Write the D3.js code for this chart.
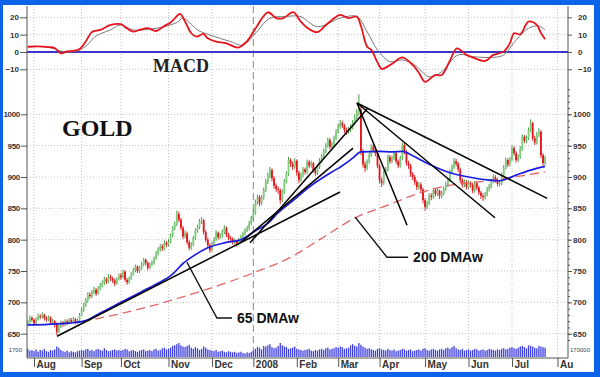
<!DOCTYPE html>
<html>
<head>
<meta charset="utf-8">
<script src="https://cdn.jsdelivr.net/npm/d3@7"></script>
<style>
  body { margin: 0; background: #fff; }
  svg { display: block; }
</style>
</head>
<body>
<div id="chart"></div>
<script>
/* Gold daily candles, moving averages, trendlines, MACD and volume (Jul 2007 - Jul 2008) */

// trading-day index 0 = Jul 27 2007; open of each day = previous close
const firstOpen = 664;

const closes = [
  668,675,672,666,673,678,677,680,675,673, 676,668,670,666,653,662,668,665,670,667,
  672,669,673,668,671,680,688,695,703,712, 710,716,720,714,722,727,731,737,733,741,
  738,735,730,737,743,740,749,736,732,738, 745,751,757,750,754,760,768,763,755,761,
  763,770,778,784,789,786,795,792,796,806, 818,824,841,832,819,805,810,796,787,792,
  803,814,820,829,831,812,800,791,783,794, 800,811,804,806,812,819,808,803,801,796,
  798,793,800,804,810,815,818,826,834,842, 860,868,858,867,879,893,902,911,898,886,
  881,879,863,876,893,905,927,921,916,926, 907,895,903,912,908,924,918,922,911,906,
  916,926,933,941,950,959,948,952,962,972, 980,986,982,975,972,975,979,986,995,1002,
  1008,940,920,914,924,935,948,943,938,918, 895,890,906,912,932,925,930,938,925,918,
  930,951,940,922,918,905,900,892,884,888, 880,863,852,858,870,868,879,873,878,870,
  874,881,888,895,908,916,925,921,912,895, 888,892,884,890,888,878,890,883,875,870,
  868,872,880,885,893,900,895,889,890,903, 915,927,920,928,946,938,927,932,945,964,
  958,962,975,986,962,955,968,972,935,922, 930
];

const highs = [
  672,679,678,674,676,682,681,684,682,678, 679,678,674,672,668,665,671,670,673,673,
  675,675,677,675,674,683,692,699,707,716, 716,720,725,723,726,731,735,741,740,745,
  744,741,738,740,746,747,752,751,739,741, 748,755,760,759,758,764,771,770,765,764,
  767,773,782,788,793,793,799,798,801,810, 822,829,846,845,835,822,815,813,799,796,
  806,818,824,833,836,833,815,803,794,797, 804,815,813,810,816,823,821,811,806,804,
  802,800,803,808,813,818,822,830,838,847, 864,872,871,871,883,897,907,916,914,901,
  890,885,882,880,897,909,932,930,925,930, 928,910,907,916,915,928,927,926,924,914,
  920,930,937,945,954,963,962,956,966,976, 985,991,990,985,979,980,984,991,1000,1008,
  1032,1012,945,925,928,939,952,952,947,941, 921,899,910,916,936,935,934,942,940,928,
  934,955,954,943,926,921,908,903,895,892, 891,883,866,862,874,874,883,882,882,880,
  878,885,892,899,912,920,930,929,924,915, 898,896,895,894,893,891,894,893,886,878,
  874,876,884,889,897,904,903,898,895,907, 919,931,930,932,950,949,941,936,949,968,
  967,966,979,992,988,966,972,978,975,938, 934
];

const lows = [
  661,666,669,663,664,671,673,674,671,669, 670,665,664,660,648,651,659,661,662,664,
  665,666,667,665,666,669,678,685,693,700, 706,707,713,710,712,719,724,728,729,731,
  734,731,726,728,735,736,738,733,728,730, 736,743,748,747,747,752,758,759,751,753,
  758,760,768,775,781,782,783,788,789,794, 804,815,822,828,815,801,802,792,783,784,
  790,800,811,817,825,808,796,787,779,781, 791,798,800,801,803,809,804,799,797,792,
  793,789,791,798,802,807,812,815,823,831, 840,856,853,855,864,876,889,898,893,881,
  876,873,857,860,873,890,902,916,911,913, 902,890,892,900,904,905,914,915,907,902,
  903,913,923,930,938,947,944,945,949,959, 969,977,978,970,967,969,972,976,983,992,
  998,935,915,908,911,921,932,939,933,914, 890,884,887,903,909,921,922,927,921,914,
  915,927,936,918,913,900,895,887,879,880, 875,858,846,849,855,863,865,869,870,865,
  866,871,878,885,892,905,913,917,908,890, 883,884,880,881,883,874,875,879,871,865,
  862,864,869,877,882,890,891,885,885,887, 900,912,916,917,925,934,923,924,929,942,
  954,954,959,972,958,951,952,964,930,918, 919
];

const volumes = [
  70,55,60,50,65,45,60,55,70,50,45,60,55,65,90,80,60,50,45,55,40,50,45,40,50,55,
  60,55,65,70,55,60,50,65,70,60,55,75,60,50,55,60,65,55,60,
  55,60,70,65,50,55,60,50,45,55,60,65,50,55,60,50,65,70,55,60,75,80,65,
  70,80,95,100,110,120,100,90,85,95,105,80,70,85,75,60,70,90,80,65,60,
  55,50,60,45,50,55,45,40,50,45,40,45,35,40,45,35,30,40,35,45,
  55,70,85,80,65,95,90,100,110,85,75,80,95,120,100,90,85,70,75,80,90,
  70,65,60,55,60,65,70,55,50,60,55,65,70,60,75,80,65,70,75,85,
  80,90,85,70,75,80,100,110,95,90,120,105,90,80,70,75,65,60,55,70,
  75,65,60,55,70,60,55,65,50,55,60,70,65,55,60,65,50,55,60,65,55,70,
  75,60,55,65,70,60,55,65,70,60,75,80,70,85,95,75,65,60,70,55,60,
  65,55,60,70,65,55,60,65,55,60,70,65,60,55,65,60,70,75,65,70,80,
  85,75,70,80,90,95,85,75,100,95,90,80,75,95,90,85,80
];

// month starts (trading-day index) and their labels
const monthIdx = [3, 26, 45, 68, 89, 109, 130, 150, 170, 192, 213, 234, 256];
const monthLabels = ["Aug", "Sep", "Oct", "Nov", "Dec", "2008", "Feb", "Mar", "Apr", "May", "Jun", "Jul", "Au"];
const yearIdx = 109;

const priceTicks = [650, 700, 750, 800, 850, 900, 950, 1000];
const macdTicks = [-10, 0, 10, 20];

// moving averages: [day index, value]
const ma65 = [[0,664],[10,665],[20,667],[27,670],[35,683],[45,700],[55,717],[62,729],[70,745],
  [75,762],[80,774],[87,787],[95,795],[103,800],[111,816],[116,826],[121,843],[128,862],[136,884],
  [146,906],[152,918],[157,930],[161,940],[170,941],[176,940],[181,941],[186,934],[193,922],
  [203,908],[213,900],[223,895],[228,894],[236,903],[243,911],[250,917]];
const ma200 = [[26,669],[50,686],[83,717],[109,747],[127,772],[141,800],[159,836],[174,855],
  [188,873],[201,885],[220,893],[233,899],[250,908]];

// MACD line and signal line: [day index, value]
const macdLine = [[0,3],[5,3.2],[10,2.8],[13,2.3],[16,-0.8],[19,0.3],[22,0.6],[25,1.7],[28,6],
  [31,11.5],[35,12.7],[40,15.6],[45,16],[48,13.5],[51,11.7],[54,12.7],[58,13.7],[62,12.1],[66,15],
  [69,17],[71.5,20],[73.6,22],[76,17.5],[79,10.8],[81.6,8.8],[84.8,10.4],[87,7.9],[91,6],[96,5],
  [101.7,2.5],[105.8,6],[110.6,14.6],[116,22.9],[120,19.5],[123.5,19.5],[128.3,23],[131.6,18],
  [135,14],[139.8,11.4],[143.6,15],[147,18.5],[151,21.4],[155,19.5],[159,20.4],[161,15],[164,3],
  [166,1.2],[169,-6],[171,-9.8],[173,-9],[176.5,-6.5],[181,-3.1],[186,-7.5],[189,-12],[192,-17.2],
  [196.8,-13.3],[200,-13.3],[204,-5],[207.4,2.1],[212,-1.7],[215,-3.1],[221,-5.2],[225,-1.7],
  [230,0.2],[233,5],[235,10.8],[238,10.2],[242,17.5],[246,15.6],[248,11],[250,7.3]];
const signalLine = [[0,3],[10,2.8],[16,0.5],[20,0],[25,1],[30,5.5],[31.6,8],[35,10.5],[40,12.7],
  [44.6,15.6],[51,12.7],[58,13],[66,14.6],[72,17],[75,19.5],[79,16],[82,12.7],[88,9.8],[98,6],
  [104,4],[110,10.8],[117,19.5],[124,20.4],[131.6,20.5],[140,14.6],[151,19.5],[159,20.4],[164,11.7],
  [169,1.2],[175,-5.6],[181,-4.6],[187,-7.5],[194,-14.3],[200,-11.4],[208,-1.7],[215,-2.7],
  [225,-3.1],[230,-1.7],[236,6.9],[242,13.7],[247,15],[250,12.7]];

// trendlines: [start day, start price, end day, end price]
const trendLines = [
  [14.1, 646, 150.9, 876],
  [107.4, 795, 164.4, 1010],
  [102.6, 795, 157.2, 946],
  [159.1, 1018, 183.3, 823],
  [159.1, 1018, 225.8, 835],
  [159.1, 1018, 251, 866]
];

// label pointers: [day, price] vertices
const ptr65 = [[76.9, 764], [91.4, 675], [98.7, 675]];
const ptr200 = [[158.2, 836], [173.6, 772], [183.8, 772]];

const width = 600, height = 377;
const L = 27, R = 568, T = 6, B = 358;

const svg = d3.select("#chart")
  .append("svg")
  .attr("width", width)
  .attr("height", height)
  .style("font-family", "'Liberation Sans', Arial, sans-serif");

// blue frame
svg.append("rect").attr("width", width).attr("height", height).attr("fill", "#0d62ea");
svg.append("rect").attr("x", 3).attr("y", 5).attr("width", 591).attr("height", 367).attr("fill", "#fff");

const x = d3.scaleLinear().domain([0, 256]).range([27.8, 557.5]);
const yP = d3.scaleLinear().domain([650, 1000]).range([333.7, 114.3]);
const yM = d3.scaleLinear().domain([-10, 20]).range([69.3, 17.3]);
const yV = d3.scaleLinear().domain([0, 120]).range([357, 343]);

const bars = closes.map((c, i) => ({
  i: i,
  o: i ? closes[i - 1] : firstOpen,
  c: c,
  h: highs[i],
  l: lows[i],
  v: volumes[i]
}));

// grid
const grid = svg.append("g")
  .attr("stroke", "#c4c4c4")
  .attr("stroke-width", 1)
  .attr("stroke-dasharray", "1,2");

grid.selectAll(".hp").data(priceTicks).join("line")
  .attr("x1", L).attr("x2", R)
  .attr("y1", d => yP(d)).attr("y2", d => yP(d));

grid.selectAll(".hm").data(macdTicks.filter(d => d !== 0)).join("line")
  .attr("x1", L).attr("x2", R)
  .attr("y1", d => yM(d)).attr("y2", d => yM(d));

grid.selectAll(".v").data(monthIdx.filter(d => d !== yearIdx && x(d) < R)).join("line")
  .attr("x1", d => x(d)).attr("x2", d => x(d))
  .attr("y1", T).attr("y2", B);

// year separator
svg.append("line")
  .attr("x1", x(yearIdx)).attr("x2", x(yearIdx))
  .attr("y1", T).attr("y2", B)
  .attr("stroke", "#8a8a8a")
  .attr("stroke-dasharray", "7,4");

// volume
svg.append("g").selectAll("rect").data(bars).join("rect")
  .attr("x", d => x(d.i) - 0.65)
  .attr("width", 1.3)
  .attr("y", d => yV(d.v))
  .attr("height", d => yV(0) - yV(d.v))
  .attr("fill", "#3f3fe0");

// candles
const candle = svg.append("g").selectAll("g").data(bars).join("g");

candle.append("line")
  .attr("x1", d => x(d.i)).attr("x2", d => x(d.i))
  .attr("y1", d => yP(d.h)).attr("y2", d => yP(d.l))
  .attr("stroke", d => d.c >= d.o ? "#2f8f2f" : "#d81418")
  .attr("stroke-width", 0.9);

candle.append("rect")
  .attr("x", d => x(d.i) - 0.9)
  .attr("width", 1.8)
  .attr("y", d => yP(Math.max(d.o, d.c)))
  .attr("height", d => Math.max(0.8, Math.abs(yP(d.o) - yP(d.c))))
  .attr("fill", d => d.c >= d.o ? "#7fcc7f" : "#e3141b");

// moving averages
const maLine = d3.line()
  .x(d => x(d[0]))
  .y(d => yP(d[1]))
  .curve(d3.curveMonotoneX);

svg.append("path")
  .attr("d", maLine(ma200))
  .attr("fill", "none")
  .attr("stroke", "#e46464")
  .attr("stroke-width", 1.3)
  .attr("stroke-dasharray", "9,5");

svg.append("path")
  .attr("d", maLine(ma65))
  .attr("fill", "none")
  .attr("stroke", "#1c1ce0")
  .attr("stroke-width", 1.7);

// trendlines
svg.append("g").selectAll("line").data(trendLines).join("line")
  .attr("x1", d => x(d[0])).attr("y1", d => yP(d[1]))
  .attr("x2", d => x(d[2])).attr("y2", d => yP(d[3]))
  .attr("stroke", "#000")
  .attr("stroke-width", 1.5);

// MA labels with pointers
const ptrLine = d3.line().x(d => x(d[0])).y(d => yP(d[1]));
[[ptr65, "65 DMAw"], [ptr200, "200 DMAw"]].forEach(([p, label]) => {
  svg.append("path")
    .attr("d", ptrLine(p))
    .attr("fill", "none")
    .attr("stroke", "#111")
    .attr("stroke-width", 1.4);
  const end = p[p.length - 1];
  svg.append("text")
    .attr("x", x(end[0]) + 5)
    .attr("y", yP(end[1]) + 5)
    .attr("font-size", 14)
    .attr("font-weight", "bold")
    .attr("fill", "#111")
    .text(label);
});

// MACD
const macdGen = d3.line()
  .x(d => x(d[0]))
  .y(d => yM(d[1]))
  .curve(d3.curveCatmullRom);

svg.append("line")
  .attr("x1", L).attr("x2", R)
  .attr("y1", yM(0)).attr("y2", yM(0))
  .attr("stroke", "#3a36c8")
  .attr("stroke-width", 2);

svg.append("path")
  .attr("d", macdGen(signalLine))
  .attr("fill", "none")
  .attr("stroke", "#7a7a7a")
  .attr("stroke-width", 1);

svg.append("path")
  .attr("d", macdGen(macdLine))
  .attr("fill", "none")
  .attr("stroke", "#e8141c")
  .attr("stroke-width", 1.8);

// axes
const fmt = d3.format("d");

function styleAxis(g) {
  g.select(".domain").remove();
  g.selectAll("line").attr("stroke", "#555");
  g.selectAll("text")
    .attr("fill", "#333")
    .attr("font-size", 8)
    .attr("font-weight", "bold")
    .attr("font-family", "'Liberation Sans', Arial, sans-serif");
}

svg.append("g")
  .attr("transform", `translate(${L},0)`)
  .call(d3.axisLeft(yP).tickValues(priceTicks).tickSize(6).tickPadding(1).tickFormat(fmt))
  .call(styleAxis)
  .selectAll("text").attr("letter-spacing", -0.3);

svg.append("g")
  .attr("transform", `translate(${R},0)`)
  .call(d3.axisRight(yP).tickValues(d3.range(640, 1041, 10)).tickSize(2).tickFormat(""))
  .call(styleAxis);

svg.append("g")
  .attr("transform", `translate(${R},0)`)
  .call(d3.axisRight(yP).tickValues(priceTicks).tickSize(4).tickPadding(1).tickFormat(fmt))
  .call(styleAxis);

svg.append("g")
  .attr("transform", `translate(${L},0)`)
  .call(d3.axisLeft(yM).tickValues(macdTicks).tickSize(7).tickPadding(1).tickFormat(fmt))
  .call(styleAxis);

svg.append("g")
  .attr("transform", `translate(${R},0)`)
  .call(d3.axisRight(yM).tickValues(macdTicks).tickSize(4).tickPadding(6).tickFormat(fmt))
  .call(styleAxis);

const xAxis = svg.append("g")
  .attr("transform", `translate(0,${B})`)
  .call(d3.axisBottom(x).tickValues(monthIdx).tickSize(9).tickFormat((d, i) => monthLabels[i]))
  .call(styleAxis);

xAxis.selectAll("text")
  .attr("x", 2)
  .attr("y", 3)
  .attr("font-size", 10)
  .style("text-anchor", "start");

// frame lines
svg.append("g")
  .attr("stroke", "#555")
  .selectAll("line")
  .data([[L, T, L, B], [R, T, R, B], [L, B, R, B]])
  .join("line")
  .attr("x1", d => d[0]).attr("y1", d => d[1])
  .attr("x2", d => d[2]).attr("y2", d => d[3]);

// volume scale labels
svg.append("text").attr("x", 22).attr("y", 352).attr("text-anchor", "end")
  .attr("font-size", 6).attr("fill", "#444").text("1700");
svg.append("text").attr("x", 570).attr("y", 352)
  .attr("font-size", 6).attr("fill", "#444").text("170000");

// titles
svg.append("text")
  .attr("x", 62).attr("y", 136)
  .attr("font-family", "'Liberation Serif', 'Times New Roman', serif")
  .attr("font-weight", "bold")
  .attr("font-size", 24)
  .attr("fill", "#111")
  .text("GOLD");

svg.append("text")
  .attr("x", 153).attr("y", 72)
  .attr("font-family", "'Liberation Serif', 'Times New Roman', serif")
  .attr("font-weight", "bold")
  .attr("font-size", 18)
  .attr("fill", "#222")
  .text("MACD");
</script>
</body>
</html>
